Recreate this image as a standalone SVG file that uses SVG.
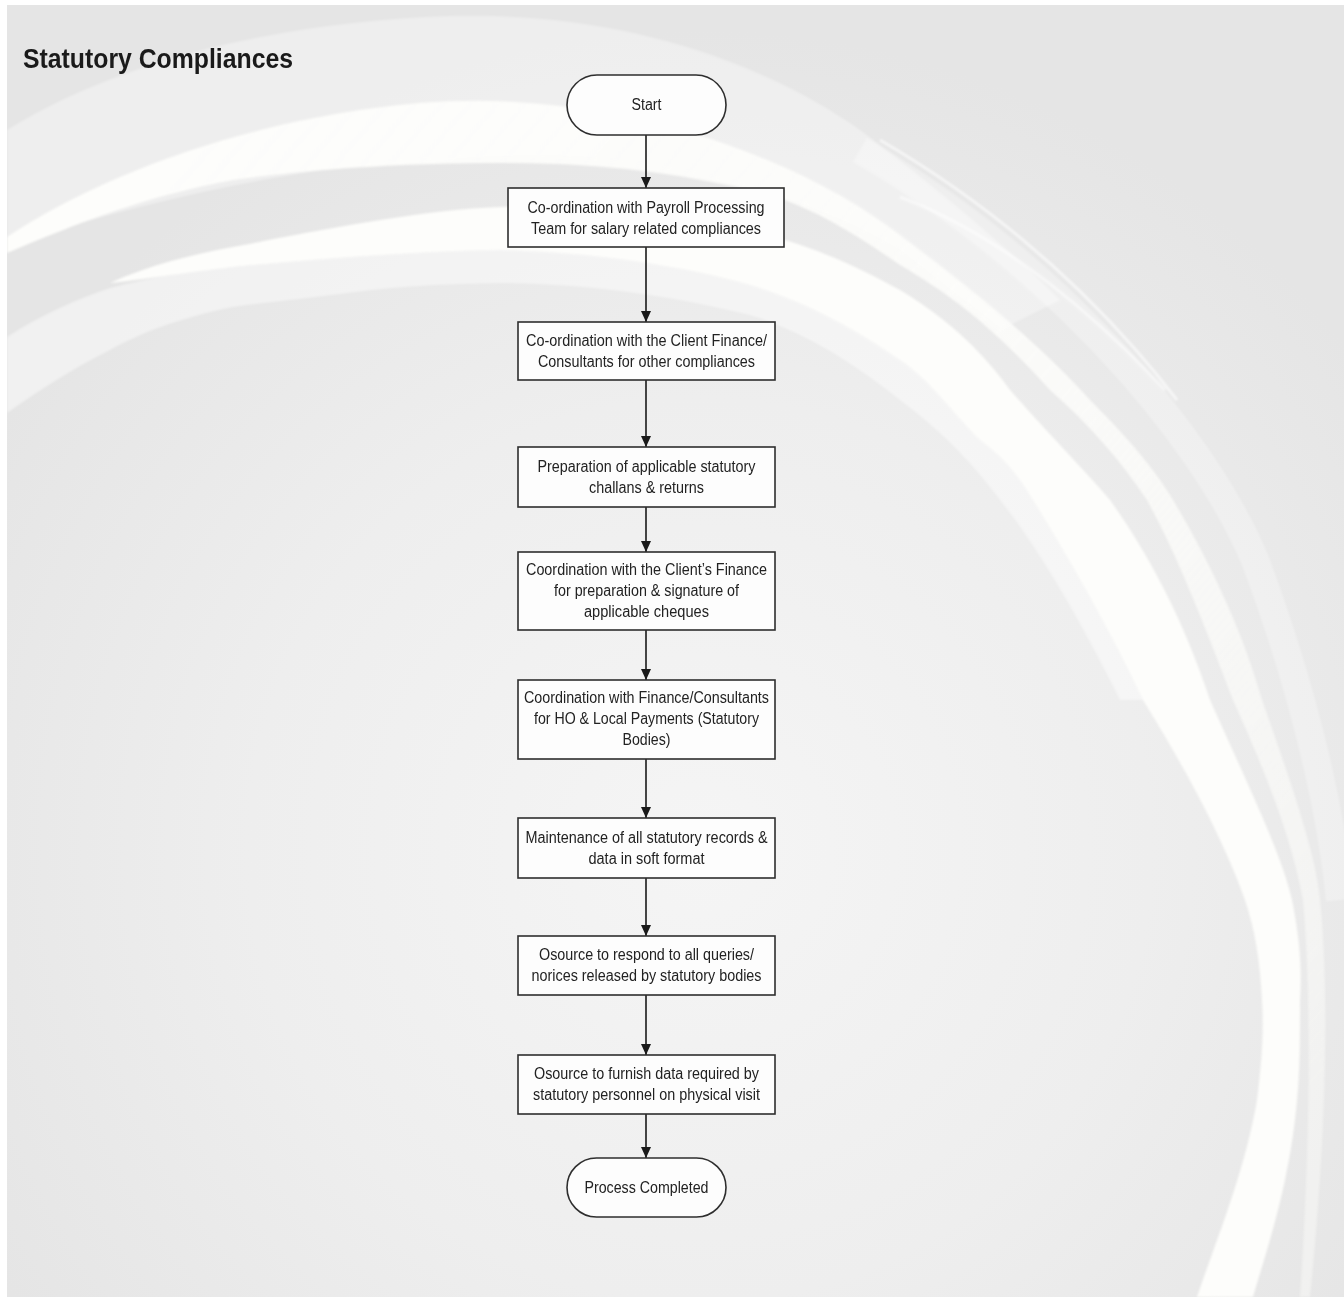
<svg xmlns="http://www.w3.org/2000/svg" width="1344" height="1297" viewBox="0 0 1344 1297">
  <defs>
    <radialGradient id="bgGrad" gradientUnits="userSpaceOnUse" cx="700" cy="850" r="820">
      <stop offset="0" stop-color="#f5f5f5"/>
      <stop offset="0.55" stop-color="#eeeeee"/>
      <stop offset="1" stop-color="#e5e5e5"/>
    </radialGradient>
    <linearGradient id="sweepFade" gradientUnits="userSpaceOnUse" x1="200" y1="150" x2="1300" y2="1100">
      <stop offset="0" stop-color="#fdfdfb" stop-opacity="1"/>
      <stop offset="0.55" stop-color="#fdfdfb" stop-opacity="0.85"/>
      <stop offset="1" stop-color="#fdfdfb" stop-opacity="0.45"/>
    </linearGradient>
    <clipPath id="page">
      <rect x="7" y="5" width="1337" height="1292"/>
    </clipPath>
    <filter id="soft" x="-5%" y="-5%" width="110%" height="110%">
      <feGaussianBlur stdDeviation="1.2"/>
    </filter>
    <marker id="arrow" markerUnits="userSpaceOnUse" markerWidth="11" markerHeight="10" refX="11" refY="5" orient="auto">
      <path d="M0,0 L11,5 L0,10 Z" fill="#1a1a1a"/>
    </marker>
    <style>
      .box { fill: #fdfdfd; stroke: #2e2e2e; stroke-width: 1.6; }
      .lbl { font-family: "Liberation Sans", Arial, sans-serif; font-size: 16px; fill: #222; text-anchor: middle; }
      .title { font-family: "Liberation Sans", Arial, sans-serif; font-size: 28px; font-weight: bold; fill: #1a1a1a; }
      .edge { fill: none; stroke: #1a1a1a; stroke-width: 1.6; marker-end: url(#arrow); }
    </style>
  </defs>

  <!-- page and backdrop -->
  <rect x="0" y="0" width="1344" height="1297" fill="#ffffff"/>
  <rect x="7" y="5" width="1337" height="1292" fill="url(#bgGrad)"/>

  <!-- sweeping backdrop bands -->
  <g clip-path="url(#page)" filter="url(#soft)">
    <!-- faint outer band -->
    <path d="M7,130 C120,60 280,22 450,16 C620,12 760,60 860,130 C940,190 1010,250 1060,300 L1000,330 L900,250 C700,130 400,120 7,245 Z" fill="#ffffff" opacity="0.35"/>
    <path d="M860,150 C1050,260 1200,430 1255,560 C1300,680 1330,800 1340,900" fill="none" stroke="#ffffff" stroke-width="28" opacity="0.3"/>
    <path d="M880,140 C1000,210 1100,300 1177,400" fill="none" stroke="#ffffff" stroke-width="3" opacity="0.6"/>
    <path d="M900,197 C1000,235 1090,310 1165,390" fill="none" stroke="#ffffff" stroke-width="3" opacity="0.5"/>
    <!-- outer white sweep -->
    <path d="M7,237 C100,175 250,118 420,103 C600,88 790,150 900,235 C980,295 1040,345 1090,400 C1130,440 1155,470 1173,500 C1215,570 1245,640 1262,700 C1290,780 1315,850 1320,900 C1330,1000 1325,1150 1310,1297 L1300,1297 C1310,1150 1312,1000 1303,900 C1290,830 1260,760 1233,700 C1210,640 1180,560 1147,500 C1120,460 1090,425 1050,390 C1000,335 960,300 900,265 C850,230 800,200 750,190 C670,172 600,163 500,163 C400,163 300,170 233,180 C150,195 80,222 7,253 Z" fill="url(#sweepFade)"/>
    <!-- light band inside the main sweep -->
    <path d="M7,337 C40,315 80,298 110,288 C150,278 190,270 233,267 C310,260 400,252 500,250 C590,252 680,265 750,285 C800,300 850,325 900,360 C930,380 950,410 980,440 C1000,455 1015,470 1033,500 C1070,560 1110,630 1143,700 L1120,700 C1080,620 1040,550 1000,500 C970,460 940,430 900,400 C850,360 800,330 750,315 C650,290 560,283 500,283 C440,284 400,286 340,294 C300,299 260,303 233,307 C180,318 140,333 110,350 C70,370 40,390 7,413 Z" fill="#ffffff" opacity="0.45"/>
    <!-- main white sweep -->
    <path d="M110,283 C150,265 190,255 233,247 C320,230 420,210 500,207 C590,205 680,215 750,230 C820,248 860,268 900,290 C950,320 985,355 1010,390 C1045,430 1080,465 1110,500 C1160,570 1190,640 1210,700 C1250,790 1280,850 1292,900 C1300,940 1302,970 1300,1000 C1300,1040 1300,1070 1297,1100 C1290,1180 1270,1240 1253,1297 L1197,1297 C1220,1230 1245,1170 1257,1100 C1262,1060 1264,1030 1262,1000 C1260,960 1255,930 1245,900 C1220,830 1180,760 1143,700 C1110,630 1070,560 1033,500 C1015,470 1000,455 980,440 C950,410 930,380 900,360 C850,325 800,300 750,285 C680,265 590,252 500,250 C400,252 310,260 233,267 C180,273 140,280 110,283 Z" fill="#fdfdfb"/>
  </g>

  <text class="title" x="23" y="68" textLength="270" lengthAdjust="spacingAndGlyphs">Statutory Compliances</text>

  <!-- connectors -->
  <g id="connectors">
    <line class="edge" x1="646" y1="135" x2="646" y2="188"/>
    <line class="edge" x1="646" y1="247" x2="646" y2="322"/>
    <line class="edge" x1="646" y1="380" x2="646" y2="447"/>
    <line class="edge" x1="646" y1="507" x2="646" y2="552"/>
    <line class="edge" x1="646" y1="630" x2="646" y2="680"/>
    <line class="edge" x1="646" y1="759" x2="646" y2="818"/>
    <line class="edge" x1="646" y1="878" x2="646" y2="936"/>
    <line class="edge" x1="646" y1="995" x2="646" y2="1055"/>
    <line class="edge" x1="646" y1="1114" x2="646" y2="1158"/>
  </g>

  <!-- nodes -->
  <g id="start">
    <rect class="box" x="567" y="75" width="159" height="60" rx="30" ry="30"/>
    <text class="lbl" x="646.5" y="110" textLength="30" lengthAdjust="spacingAndGlyphs">Start</text>
  </g>

  <g id="payroll-coordination">
    <rect class="box" x="508" y="188" width="276" height="59"/>
    <text class="lbl" x="646" y="213" textLength="237" lengthAdjust="spacingAndGlyphs">Co-ordination with Payroll Processing</text>
    <text class="lbl" x="646" y="234" textLength="230" lengthAdjust="spacingAndGlyphs">Team for salary related compliances</text>
  </g>

  <g id="client-finance-coordination">
    <rect class="box" x="518" y="322" width="257" height="58"/>
    <text class="lbl" x="646.5" y="346" textLength="241" lengthAdjust="spacingAndGlyphs">Co-ordination with the Client Finance/</text>
    <text class="lbl" x="646.5" y="367" textLength="217" lengthAdjust="spacingAndGlyphs">Consultants for other compliances</text>
  </g>

  <g id="challan-preparation">
    <rect class="box" x="518" y="447" width="257" height="60"/>
    <text class="lbl" x="646.5" y="472" textLength="218" lengthAdjust="spacingAndGlyphs">Preparation of applicable statutory</text>
    <text class="lbl" x="646.5" y="493" textLength="115" lengthAdjust="spacingAndGlyphs">challans &amp; returns</text>
  </g>

  <g id="cheque-coordination">
    <rect class="box" x="518" y="552" width="257" height="78"/>
    <text class="lbl" x="646.5" y="575" textLength="241" lengthAdjust="spacingAndGlyphs">Coordination with the Client’s Finance</text>
    <text class="lbl" x="646.5" y="596" textLength="185" lengthAdjust="spacingAndGlyphs">for preparation &amp; signature of</text>
    <text class="lbl" x="646.5" y="617" textLength="125" lengthAdjust="spacingAndGlyphs">applicable cheques</text>
  </g>

  <g id="payment-coordination">
    <rect class="box" x="518" y="680" width="257" height="79"/>
    <text class="lbl" x="646.5" y="703" textLength="245" lengthAdjust="spacingAndGlyphs">Coordination with Finance/Consultants</text>
    <text class="lbl" x="646.5" y="724" textLength="225" lengthAdjust="spacingAndGlyphs">for HO &amp; Local Payments (Statutory</text>
    <text class="lbl" x="646.5" y="745" textLength="48" lengthAdjust="spacingAndGlyphs">Bodies)</text>
  </g>

  <g id="records-maintenance">
    <rect class="box" x="518" y="818" width="257" height="60"/>
    <text class="lbl" x="646.5" y="843" textLength="242" lengthAdjust="spacingAndGlyphs">Maintenance of all statutory records &amp;</text>
    <text class="lbl" x="646.5" y="864" textLength="116" lengthAdjust="spacingAndGlyphs">data in soft format</text>
  </g>

  <g id="query-response">
    <rect class="box" x="518" y="936" width="257" height="59"/>
    <text class="lbl" x="646.5" y="960" textLength="215" lengthAdjust="spacingAndGlyphs">Osource to respond to all queries/</text>
    <text class="lbl" x="646.5" y="981" textLength="230" lengthAdjust="spacingAndGlyphs">norices released by statutory bodies</text>
  </g>

  <g id="data-furnishing">
    <rect class="box" x="518" y="1055" width="257" height="59"/>
    <text class="lbl" x="646.5" y="1079" textLength="225" lengthAdjust="spacingAndGlyphs">Osource to furnish data required by</text>
    <text class="lbl" x="646.5" y="1100" textLength="227" lengthAdjust="spacingAndGlyphs">statutory personnel on physical visit</text>
  </g>

  <g id="process-completed">
    <rect class="box" x="567" y="1158" width="159" height="59" rx="29.5" ry="29.5"/>
    <text class="lbl" x="646.5" y="1193" textLength="124" lengthAdjust="spacingAndGlyphs">Process Completed</text>
  </g>
</svg>
